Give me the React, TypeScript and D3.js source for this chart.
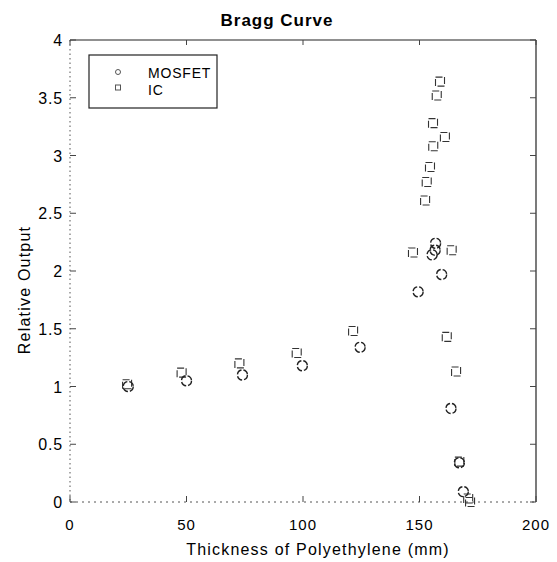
import React from "react";
import * as d3 from "d3";

const mosfetX = [25, 50, 74, 99.7, 124.5, 149.4, 155.4, 156.7, 156.9, 159.5, 163.5, 167.1, 168.8];
const mosfetY = [1.0, 1.05, 1.1, 1.18, 1.34, 1.82, 2.14, 2.18, 2.24, 1.97, 0.81, 0.34, 0.09];

const icX = [24.5, 47.9, 72.7, 97.3, 121.5, 147.2, 152.4, 153.1, 154.5, 155.9, 155.8, 157.4, 158.8, 160.9, 163.8, 161.7, 165.7, 167.1, 170.9, 171.7];
const icY = [1.02, 1.12, 1.2, 1.29, 1.48, 2.16, 2.61, 2.77, 2.9, 3.08, 3.28, 3.52, 3.64, 3.16, 2.18, 1.43, 1.13, 0.35, 0.03, 0.0];

const xTicks = [0, 50, 100, 150, 200];
const yTicks = [0, 0.5, 1, 1.5, 2, 2.5, 3, 3.5, 4];
const yTickLabels = ["0", "0.5", "1", "1.5", "2", "2.5", "3", "3.5", "4"];

const W = 557;
const H = 562;
const left = 70, right = 536, top = 40, bottom = 502;

export default function App() {
  const x = d3.scaleLinear().domain([0, 200]).range([left, right]);
  const y = d3.scaleLinear().domain([0, 4]).range([bottom, top]);
  const font = "'Liberation Sans', Arial, Helvetica, sans-serif";

  return (
    <svg width={W} height={H} style={{ position: "absolute", left: 0, top: 0, background: "#fff" }} fontFamily={font}>
      <rect x={0} y={0} width={W} height={H} fill="#fff" />
      {/* axes frame */}
      <line x1={left} y1={top} x2={right} y2={top} stroke="#222" strokeWidth={1.2} />
      <line x1={right} y1={top} x2={right} y2={bottom} stroke="#222" strokeWidth={1.2} />
      <line x1={left} y1={top} x2={left} y2={bottom} stroke="#555" strokeWidth={1} strokeDasharray="1.5,3" />
      <line x1={left} y1={bottom} x2={right} y2={bottom} stroke="#555" strokeWidth={1} strokeDasharray="2,4" />
      {/* ticks */}
      {xTicks.map((t) => (
        <g key={"xt" + t}>
          <line x1={x(t)} x2={x(t)} y1={bottom} y2={bottom - 6} stroke="#444" />
          <line x1={x(t)} x2={x(t)} y1={top} y2={top + 5} stroke="#444" />
          <text x={x(t)} y={bottom + 28} textAnchor="middle" fontSize={15} letterSpacing={1}>{t}</text>
        </g>
      ))}
      {yTicks.map((t, i) => (
        <g key={"yt" + t}>
          <line x1={left} x2={left + 6} y1={y(t)} y2={y(t)} stroke="#444" />
          <line x1={right} x2={right - 6} y1={y(t)} y2={y(t)} stroke="#444" />
          <text x={left - 7} y={y(t) + 6} textAnchor="end" fontSize={16} letterSpacing={0.8}>{yTickLabels[i]}</text>
        </g>
      ))}
      {/* title and labels */}
      <text x={277} y={26} textAnchor="middle" fontSize={17} fontWeight="bold" letterSpacing={1}>Bragg Curve</text>
      <text x={318} y={555} textAnchor="middle" fontSize={16} letterSpacing={1.2}>Thickness of Polyethylene (mm)</text>
      <text transform={`translate(30, 290) rotate(-90)`} textAnchor="middle" fontSize={16} letterSpacing={1.2}>Relative Output</text>
      {/* data */}
      {icX.map((v, i) => (
        <rect key={"ic" + i} x={x(v) - 4.5} y={y(icY[i]) - 4.5} width={9} height={9} fill="none" stroke="#333" strokeWidth={1.1} strokeDasharray="7,2" />
      ))}
      {mosfetX.map((v, i) => (
        <circle key={"m" + i} cx={x(v)} cy={y(mosfetY[i])} r={5} fill="none" stroke="#222" strokeWidth={1.4} strokeDasharray="6,2" />
      ))}
      {/* legend */}
      <rect x={89} y={55} width={128} height={53} fill="#fff" stroke="#222" strokeWidth={1.2} />
      <circle cx={118} cy={72} r={2.5} fill="none" stroke="#555" strokeWidth={1} />
      <rect x={115.5} y={85} width={5} height={5} fill="none" stroke="#555" strokeWidth={1} />
      <text x={148} y={78} fontSize={14} letterSpacing={0.8}>MOSFET</text>
      <text x={148} y={95} fontSize={14} letterSpacing={0.8}>IC</text>
    </svg>
  );
}
